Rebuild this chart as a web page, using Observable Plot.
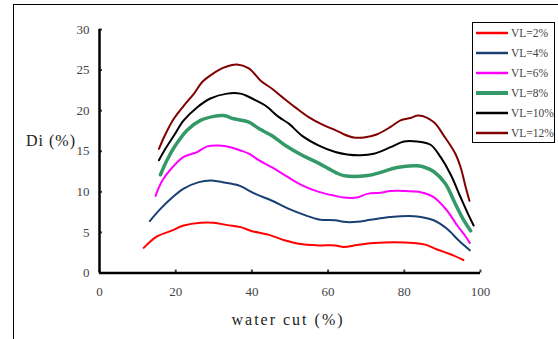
<!DOCTYPE html>
<html>
<head>
<meta charset="utf-8">
<script src="https://cdn.jsdelivr.net/npm/d3@7"></script>
<script src="https://cdn.jsdelivr.net/npm/@observablehq/plot@0.6"></script>
<style>
  html, body { margin: 0; padding: 0; background: #fff; overflow: hidden; }
  #wrap { position: relative; width: 558px; height: 339px; overflow: hidden; }
  #frame { position: absolute; left: 13px; top: 4px; width: 600px; height: 400px;
           border-left: 1.5px solid #000; border-top: 1.5px solid #000; pointer-events: none; }
  .ttl { position: absolute; font-family: "Liberation Serif", "Noto Sans CJK SC", serif;
         font-size: 16px; color: #222; white-space: nowrap; line-height: 18px; }
  #legend { position: absolute; left: 472px; top: 22px; }
</style>
</head>
<body>
<div id="wrap">
  <div id="frame"></div>
  <div id="chart"></div>
  <div class="ttl" id="ytitle" style="right:482px; top:132px; letter-spacing:1px;"></div>
  <div class="ttl" id="xtitle" style="left:288px; top:311px; transform:translateX(-50%); letter-spacing:2px;"></div>
  <div id="legend"></div>
</div>
<script>
// ---- data ----
const seriesNames = ["VL=2%", "VL=4%", "VL=6%", "VL=8%", "VL=10%", "VL=12%"];
const seriesColors = ["#ff0000", "#1a3f73", "#ff00ff", "#339966", "#000000", "#800000"];
const seriesWidths = [2, 2, 2, 3.5, 2, 2];
const xTicks = [0, 20, 40, 60, 80, 100];
const yTicks = [0, 5, 10, 15, 20, 25, 30];
const xTitle = "water cut (%)";
const yTitle = "Di (%)";

const vl2 = [[11.6,3.1],[15.1,4.5],[18.6,5.15],[22.1,5.85],[26.5,6.2],[30,6.2],[33.5,5.9],[37,5.65],[40.1,5.15],[44.5,4.7],[48.8,4.0],[52.3,3.6],[57.6,3.4],[61.9,3.4],[64.1,3.2],[67.6,3.45],[72,3.7],[82.5,3.7],[85.5,3.5],[88.6,2.9],[93,2.15],[95.5,1.6]];
const vl4 = [[13.2,6.4],[16,7.9],[19.1,9.3],[22.1,10.4],[26.1,11.2],[29.1,11.4],[32.2,11.2],[35.7,10.9],[37,10.7],[40.9,9.75],[45.3,8.9],[49.7,7.9],[54.1,7.1],[57.6,6.6],[61.9,6.5],[64.1,6.3],[67.6,6.3],[71.1,6.55],[76.4,6.9],[82.5,7.0],[84.3,6.9],[87.7,6.5],[91.2,5.45],[94.3,4.0],[97.2,2.8]];
const vl6 = [[14.7,9.5],[16.5,11.4],[19.1,13.0],[22.1,14.3],[25.6,14.9],[28.3,15.6],[31.3,15.7],[34.4,15.5],[37,15.1],[39.2,14.7],[41.8,13.9],[45.3,13.0],[48.8,12.0],[53.2,10.8],[57.6,10.0],[61.9,9.5],[64.1,9.3],[67.6,9.3],[70.3,9.75],[73.8,9.9],[76.4,10.1],[82.5,10.05],[84.3,9.95],[87.7,9.35],[91.2,7.7],[93.9,5.85],[96.1,4.5],[97.2,3.7]];
const vl8 = [[16,12.1],[17.7,13.9],[19.9,15.7],[23,17.6],[26.5,18.8],[30,19.3],[32.6,19.4],[35.3,19.0],[39.2,18.6],[41.8,17.8],[45.3,16.9],[48.8,15.7],[53.2,14.5],[57.6,13.5],[61.9,12.4],[64.1,12.0],[70.3,12.0],[73.8,12.4],[78.1,13.0],[83.4,13.2],[85.5,13.0],[87.7,12.5],[90.8,11.0],[93.4,8.5],[95.6,6.5],[97.4,5.2]];
const vl10 = [[15.6,13.9],[17.3,15.3],[19.5,16.9],[22.1,18.8],[25.6,20.4],[29.1,21.5],[33.5,22.1],[37,22.1],[38.3,21.9],[40.9,21.3],[43.6,20.6],[47.1,19.2],[49.7,18.4],[53.2,16.9],[57.6,15.7],[61.9,14.9],[65,14.6],[68.5,14.5],[72,14.7],[76.4,15.5],[79.9,16.2],[83.4,16.2],[86.9,15.8],[89.5,14.3],[92.1,12.2],[94.8,9.3],[96.9,7.1],[98.2,5.85]];
const vl12 = [[15.6,15.3],[17.3,17.1],[19.5,19.0],[22.1,20.6],[24.8,22.1],[26.9,23.5],[29.6,24.5],[32.6,25.3],[36.1,25.7],[39.2,25.2],[42.3,23.7],[45.3,22.7],[47.9,21.7],[51.4,20.4],[54.9,19.2],[58.4,18.3],[61.9,17.6],[64.1,17.1],[66.7,16.7],[69.4,16.7],[72.9,17.1],[76.4,18.0],[79,18.8],[81.6,19.1],[83.8,19.4],[87.7,18.6],[90.4,16.9],[93.4,14.7],[94.8,13.0],[96.1,10.6],[97.1,8.9]];

const allSeries = [vl2, vl4, vl6, vl8, vl10, vl12];
const rows = allSeries.flatMap((s, i) => s.map(([x, y]) => ({x, y, name: seriesNames[i]})));

const font = '"Liberation Serif", "Noto Sans CJK SC", serif';

const chart = Plot.plot({
  width: 558,
  height: 339,
  marginLeft: 99,
  marginRight: 78,
  marginTop: 29,
  marginBottom: 66.5,
  style: {fontFamily: font, fontSize: "13px", color: "#444", background: "transparent"},
  x: {domain: [0, 100]},
  y: {domain: [0, 30]},
  color: {domain: seriesNames, range: seriesColors},
  marks: [
    Plot.axisX({ticks: xTicks, tickSize: 0, tickPadding: 14, label: null, fill: "#444"}),
    Plot.axisX({ticks: xTicks, tickSize: -3, tickFormat: () => "", label: null, strokeWidth: 2}),
    Plot.axisY({ticks: yTicks, tickSize: 0, tickPadding: 10, label: null, fill: "#444"}),
    Plot.axisY({ticks: yTicks, tickSize: -3, tickFormat: () => "", label: null, strokeWidth: 2}),
    ...seriesNames.map((n, i) =>
      Plot.line(rows.filter(r => r.name === n), {
        x: "x", y: "y", stroke: "name", strokeWidth: seriesWidths[i], curve: "catmull-rom"
      })
    ),
    Plot.ruleX([0], {strokeWidth: 2.5, stroke: "#000"}),
    Plot.ruleY([0], {strokeWidth: 2.5, stroke: "#000"})
  ]
});
document.getElementById("chart").appendChild(chart);

document.getElementById("xtitle").textContent = xTitle;
document.getElementById("ytitle").textContent = yTitle;

// legend
const lw = 82, lh = 120;
const lsvg = d3.select("#legend").append("svg").attr("width", lw + 2).attr("height", lh + 2);
lsvg.append("rect").attr("x", 0.5).attr("y", 0.5).attr("width", lw).attr("height", lh)
  .attr("fill", "#fff").attr("stroke", "#000").attr("stroke-width", 1);
seriesNames.forEach((n, i) => {
  const cy = 11 + i * 20;
  lsvg.append("line").attr("x1", 4).attr("x2", 36).attr("y1", cy).attr("y2", cy)
    .attr("stroke", seriesColors[i]).attr("stroke-width", seriesWidths[i] + 0.5);
  lsvg.append("text").attr("x", 39).attr("y", cy).attr("dy", "0.35em")
    .attr("font-family", font).attr("font-size", 11.5).attr("fill", "#444").text(n);
});
</script>
</body>
</html>
